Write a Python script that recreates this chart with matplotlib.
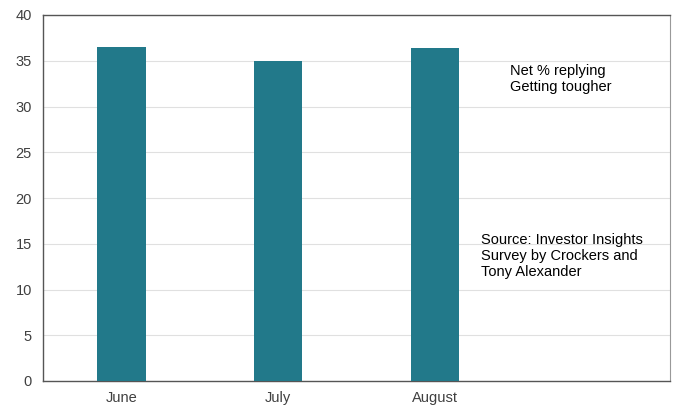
import matplotlib
matplotlib.use("Agg")
import matplotlib.pyplot as plt
import numpy as np

plt.rcParams['font.family'] = ['Liberation Sans', 'DejaVu Sans']

months = ['June', 'July', 'August', '']
values = [36.5, 35.0, 36.4]
yticks = [0, 5, 10, 15, 20, 25, 30, 35, 40]

fig = plt.figure(figsize=(6.78, 4.05), dpi=100)
ax = fig.add_axes([43/678, 1 - 381/405, (670-43)/678, (381-15)/405])

x = np.arange(len(months))
ax.bar(x[:len(values)], values, width=0.31, color='#22798a', zorder=3)

ax.set_xlim(-0.5, len(months) - 0.5)
ax.set_ylim(0, 40)
ax.set_yticks(yticks)
ax.set_xticks(x[:len(values)])
ax.set_xticklabels(months[:len(values)])
ax.grid(True, axis='y', color='#e0e0e0', linewidth=0.8, zorder=0)
ax.tick_params(axis='both', length=0, labelsize=10.5, colors='#404040')
ax.tick_params(axis='x', pad=7)
ax.tick_params(axis='y', pad=8)
for side in ['left', 'bottom', 'top']:
    ax.spines[side].set_color('#555555')
    ax.spines[side].set_linewidth(1.0)
ax.spines['right'].set_color('#999999')

fig.text(510/678, 1 - 64/405, 'Net % replying\nGetting tougher',
         fontsize=10.5, va='top', ha='left')
fig.text(481/678, 1 - 233/405, 'Source: Investor Insights\nSurvey by Crockers and\nTony Alexander',
         fontsize=10.5, va='top', ha='left')

fig.savefig('out.png', dpi=100)
